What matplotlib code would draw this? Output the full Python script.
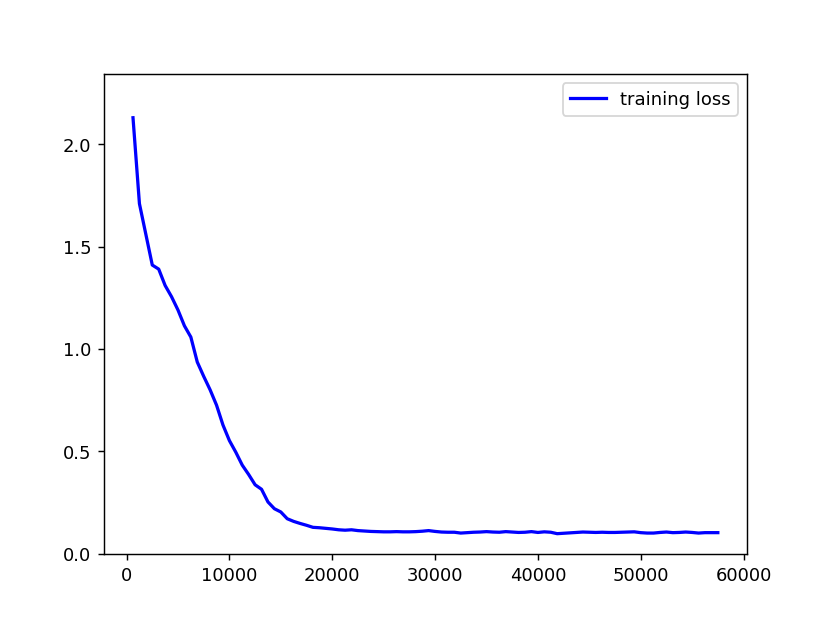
import numpy as np
import matplotlib
matplotlib.use("Agg")
import matplotlib.pyplot as plt

# training steps, logged every 625 iterations
steps = [625 * k for k in range(1, 93)]

# loss values
loss = [
    2.13, 1.71, 1.56, 1.41, 1.39, 1.31, 1.255, 1.19, 1.113, 1.058,
    0.936, 0.866, 0.80, 0.725, 0.628, 0.552, 0.495, 0.432, 0.386, 0.336,
    0.314, 0.252, 0.219, 0.203, 0.170, 0.157, 0.147, 0.138, 0.128, 0.126,
    0.123, 0.120, 0.116, 0.114, 0.116, 0.112, 0.110, 0.108, 0.107, 0.106,
    0.106, 0.107, 0.106, 0.106, 0.107, 0.109, 0.112, 0.108, 0.105, 0.104,
    0.104, 0.100, 0.102, 0.104, 0.105, 0.107, 0.105, 0.104, 0.107, 0.105,
    0.103, 0.104, 0.107, 0.103, 0.106, 0.104, 0.097, 0.099, 0.101, 0.103,
    0.105, 0.104, 0.103, 0.104, 0.103, 0.103, 0.104, 0.105, 0.106, 0.102,
    0.100, 0.100, 0.103, 0.105, 0.102, 0.103, 0.105, 0.103, 0.100, 0.102,
    0.102, 0.102,
]

plt.figure(figsize=(6.4, 4.8), dpi=129.7)
plt.plot(steps, loss, color='blue', linewidth=1.8, label='training loss')
plt.ylim(0, 1.1 * max(loss))
plt.legend(loc='upper right')
plt.savefig('out.png', dpi=129.7)
